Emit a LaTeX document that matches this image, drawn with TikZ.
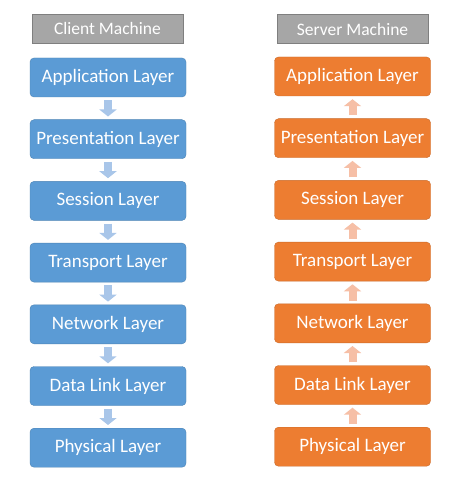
\documentclass[tikz,border=0pt]{standalone}
\usepackage{fontspec}
\setmainfont{Carlito}
\usetikzlibrary{arrows.meta}

\definecolor{clientblue}{HTML}{5B9BD5}
\definecolor{serverorange}{HTML}{ED7D31}
\definecolor{headgray}{HTML}{A6A6A6}
\definecolor{headedge}{HTML}{7F7F7F}
\definecolor{downblue}{HTML}{A9C6E9}
\definecolor{upsalmon}{HTML}{F6BFA6}

\tikzset{every picture/.style={line width=0.75pt}}
\tikzset{
  head/.style={draw=headedge, fill=headgray, text=white, minimum width=151pt, minimum height=29pt, inner sep=0pt, font=\fontsize{17.5}{20}\selectfont},
  clientlayer/.style={fill=clientblue, draw=clientblue!85!black, line width=0.4pt, rounded corners=4pt, text=white, minimum width=156pt, minimum height=39pt, inner sep=0pt, font=\fontsize{19}{22}\selectfont},
  serverlayer/.style={clientlayer, fill=serverorange, draw=serverorange!85!black},
  downstep/.style={draw=downblue, line width=8pt, shorten <=3pt, shorten >=3pt, -{Triangle[width=17pt,length=7pt]}},
  upstep/.style={downstep, draw=upsalmon}
}

\begin{document}
\begin{tikzpicture}[x=1pt,y=1pt,yscale=-1,xscale=1]
        \useasboundingbox[fill=white] (0,0) rectangle (462,484);

        % Headers
        \node [head] (chead) at (107.5,28.5) {Client Machine};
        \node [head] (shead) at (352.5,29) {Server Machine};

        % Client stack
        \node [clientlayer] (c1) at (108,77.5) {Application Layer};
        \node [clientlayer] (c2) at (108,139.2) {Presentation Layer};
        \node [clientlayer] (c3) at (108,200.9) {Session Layer};
        \node [clientlayer] (c4) at (108,262.6) {Transport Layer};
        \node [clientlayer] (c5) at (108,324.3) {Network Layer};
        \node [clientlayer] (c6) at (108,386) {Data Link Layer};
        \node [clientlayer] (c7) at (108,447.7) {Physical Layer};

        % Server stack
        \node [serverlayer] (s1) at (352.5,76.5) {Application Layer};
        \node [serverlayer] (s2) at (352.5,138.2) {Presentation Layer};
        \node [serverlayer] (s3) at (352.5,199.9) {Session Layer};
        \node [serverlayer] (s4) at (352.5,261.6) {Transport Layer};
        \node [serverlayer] (s5) at (352.5,323.3) {Network Layer};
        \node [serverlayer] (s6) at (352.5,385) {Data Link Layer};
        \node [serverlayer] (s7) at (352.5,446.7) {Physical Layer};

        % Downward arrows
        \draw [downstep] (c1.south) -- (c2.north);
        \draw [downstep] (c2.south) -- (c3.north);
        \draw [downstep] (c3.south) -- (c4.north);
        \draw [downstep] (c4.south) -- (c5.north);
        \draw [downstep] (c5.south) -- (c6.north);
        \draw [downstep] (c6.south) -- (c7.north);

        % Upward arrows
        \draw [upstep] (s7.north) -- (s6.south);
        \draw [upstep] (s6.north) -- (s5.south);
        \draw [upstep] (s5.north) -- (s4.south);
        \draw [upstep] (s4.north) -- (s3.south);
        \draw [upstep] (s3.north) -- (s2.south);
        \draw [upstep] (s2.north) -- (s1.south);

\end{tikzpicture}
\end{document}
